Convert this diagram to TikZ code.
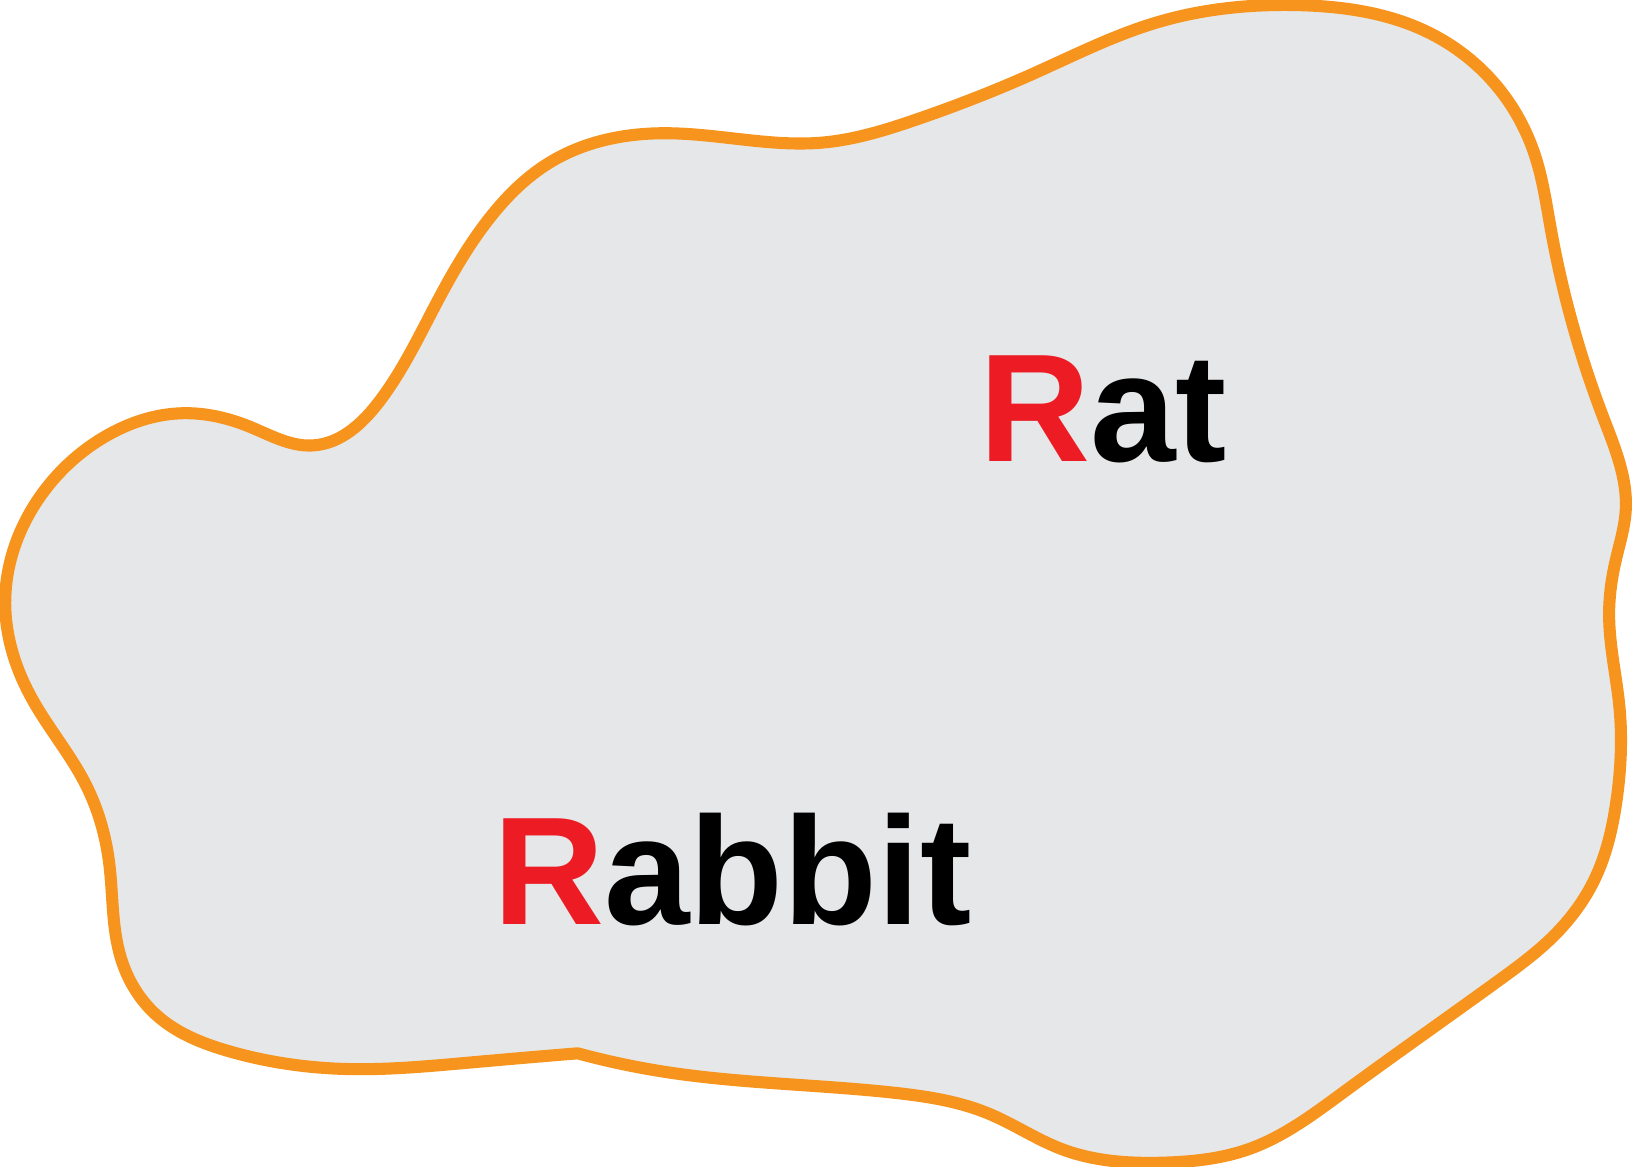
\documentclass[tikz,border=0pt]{standalone}
\usepackage{fontspec}
\setmainfont{Liberation Sans}
\usetikzlibrary{hobby}
\definecolor{blobline}{HTML}{F7941D}
\definecolor{blobfill}{HTML}{E6E7E8}
\definecolor{initial}{HTML}{ED1C24}
\tikzset{
  animal/.style={anchor=base west, inner sep=0pt, font=\fontsize{42}{50}\selectfont\bfseries}
}
\begin{document}
\begin{tikzpicture}[x=0.01cm, y=-0.01cm]
  \useasboundingbox (0,0) rectangle (1568,1121);
  % outline of the region, kink at the bottom
  \draw[use Hobby shortcut, blobline, fill=blobfill, line width=3.3pt, line join=round]
    (555,1012) .. (640,1030) .. (860,1050) .. (950,1070) .. (1020,1104)
    .. (1120,1117) .. (1200,1104) .. (1290,1050) .. (1440,942) .. (1492,900)
    .. (1532,845) .. (1553,770) .. (1556,680) .. (1546,590) .. (1552,540) .. (1562,490)
    .. (1540,400) .. (1490,220) .. (1475,150) .. (1440,85) .. (1370,30)
    .. (1250,5) .. (1110,22) .. (990,72) .. (880,115) .. (790,137)
    .. (640,128) .. (530,155) .. (470,210) .. (420,290) .. (365,385)
    .. (300,428) .. (240,410) .. (176,397) .. (100,420) .. (40,475)
    .. (5,580) .. (30,670) .. (83,755) .. (105,830) .. (116,920)
    .. (150,975) .. (220,1010) .. (330,1027) .. (450,1021) .. (555,1012) -- cycle;
  \node[animal] (rat) at (940,443) {\textcolor{initial}{R}at};
  \node[animal] (rabbit) at (473,888) {\textcolor{initial}{R}abbit};
\end{tikzpicture}
\end{document}
